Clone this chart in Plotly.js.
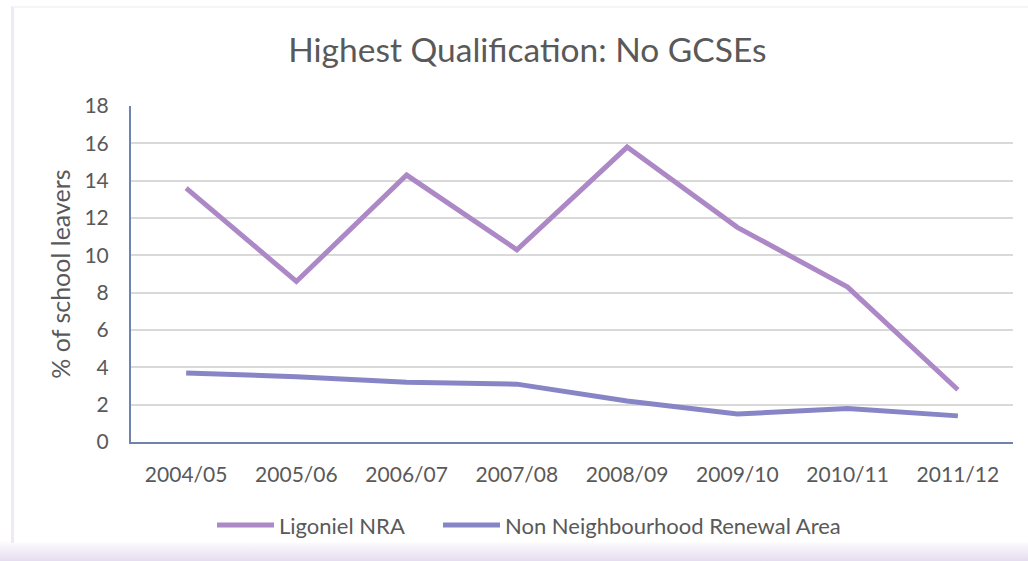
<!DOCTYPE html>
<html>
<head>
<meta charset="utf-8">
<script src="https://cdn.plot.ly/plotly-3.0.1.min.js"></script>
<style>
  html, body { margin: 0; padding: 0; background: #ffffff; width: 1028px; height: 561px; overflow: hidden; }
  #bg { position: absolute; left: 0; top: 0; width: 1028px; height: 561px;
        background: linear-gradient(to bottom, #ffffff 0px, #ffffff 540px, #e6dcef 561px); }
  #frame { position: absolute; left: 11px; top: 6px; width: 1030px; height: 535px;
           background: #ffffff; border-left: 3px solid #efe9f5; border-top: 2px solid #f6f4f8; }
  #chart { position: absolute; left: 0; top: 0; width: 1028px; height: 561px; }
</style>
</head>
<body>
<div id="bg"></div>
<div id="frame"></div>
<div id="chart"></div>
<script>
const categories = ["2004/05", "2005/06", "2006/07", "2007/08", "2008/09", "2009/10", "2010/11", "2011/12"];
const ligonielNRA = [13.6, 8.6, 14.3, 10.3, 15.8, 11.5, 8.3, 2.8];
const nonNRA = [3.7, 3.5, 3.2, 3.1, 2.2, 1.5, 1.8, 1.4];
const yTicks = [0, 2, 4, 6, 8, 10, 12, 14, 16, 18];
const seriesNames = ["Ligoniel NRA", "Non Neighbourhood Renewal Area"];
const seriesColors = ["#ad88c6", "#8885c7"];

const fontFamily = "Lato, 'Open Sans', sans-serif";
const textColor = "#595959";

// plot-area geometry (pixels)
const M = { l: 131, r: 15, t: 106, b: 119 };
const W = 1028, H = 561;
const pw = W - M.l - M.r, ph = H - M.t - M.b;
const px2x = p => (p - M.l) / pw;
const px2y = p => (H - M.b - p) / ph;

const traces = [
  { x: categories, y: ligonielNRA, name: seriesNames[0], type: "scatter", mode: "lines",
    line: { color: seriesColors[0], width: 5 } },
  { x: categories, y: nonNRA, name: seriesNames[1], type: "scatter", mode: "lines",
    line: { color: seriesColors[1], width: 5 } }
];

// custom legend (longer line samples, as in the reference)
const legendY = px2y(525);
const legendItems = [ { x0: 217, x1: 274, tx: 277 }, { x0: 443, x1: 500, tx: 503 } ];
const shapes = legendItems.map((it, i) => ({
  type: "line", xref: "paper", yref: "paper",
  x0: px2x(it.x0), x1: px2x(it.x1), y0: legendY, y1: legendY,
  line: { color: seriesColors[i], width: 5 }
}));
const annotations = legendItems.map((it, i) => ({
  xref: "paper", yref: "paper", x: px2x(it.tx), y: legendY,
  xanchor: "left", yanchor: "middle", showarrow: false, text: seriesNames[i],
  font: { size: 22, color: textColor, family: fontFamily }
}));

const layout = {
  width: W, height: H,
  paper_bgcolor: "rgba(0,0,0,0)", plot_bgcolor: "rgba(0,0,0,0)",
  margin: M,
  font: { family: fontFamily, color: textColor, size: 21 },
  title: { text: "Highest Qualification: No GCSEs", font: { size: 33.5, color: textColor, family: fontFamily },
           x: 0.513, xref: "container", xanchor: "center", y: 0.91, yanchor: "middle" },
  xaxis: { type: "category", range: [-0.5, 7.5], showgrid: false, zeroline: false,
           showline: true, linecolor: "#7083ab", linewidth: 2, ticks: "",
           ticklabelstandoff: 13, tickfont: { size: 21, color: textColor } },
  yaxis: { range: [0, 18], tickvals: yTicks, showgrid: true, gridcolor: "#d9d9d9", gridwidth: 2,
           zeroline: false, showline: true, linecolor: "#7083ab", linewidth: 2, ticks: "",
           ticklabelstandoff: 16, tickfont: { size: 21, color: textColor },
           title: { text: "% of school leavers", font: { size: 25, color: textColor }, standoff: 7 } },
  showlegend: false,
  shapes: shapes,
  annotations: annotations,
  hovermode: false
};

Plotly.newPlot("chart", traces, layout, { displayModeBar: false, staticPlot: true });
</script>
</body>
</html>
